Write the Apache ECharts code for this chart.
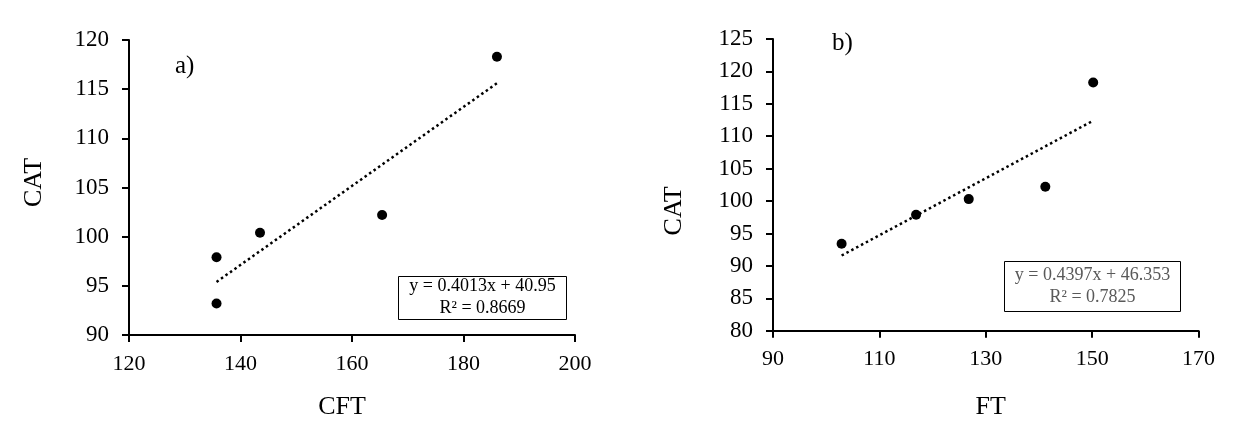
<!DOCTYPE html>
<html>
<head>
<meta charset="utf-8">
<script src="https://cdn.jsdelivr.net/npm/echarts@6/dist/echarts.min.js"></script>
<style>
html,body{margin:0;padding:0;background:#fff;}
#chart{width:1237px;height:429px;}
</style>
</head>
<body>
<div id="chart"></div>
<script>
// Panel a) CFT vs CAT
const cftValues = [135.7, 135.7, 143.5, 165.4, 186.0];
const catValuesA = [97.9, 93.2, 100.4, 102.2, 118.3];
const trendA = [[135.7, 95.4], [186.0, 115.6]];
const eqA = ['y = 0.4013x + 40.95', 'R² = 0.8669'];
const xTicksA = [120, 140, 160, 180, 200];
const yTicksA = [90, 95, 100, 105, 110, 115, 120];

// Panel b) FT vs CAT
const ftValues = [102.9, 116.9, 126.8, 141.2, 150.2];
const catValuesB = [93.4, 97.9, 100.3, 102.2, 118.3];
const trendB = [[102.9, 91.6], [150.2, 112.4]];
const eqB = ['y = 0.4397x + 46.353', 'R² = 0.7825'];
const xTicksB = [90, 110, 130, 150, 170];
const yTicksB = [80, 85, 90, 95, 100, 105, 110, 115, 120, 125];

const FONT = '"Liberation Serif", "Times New Roman", serif';
const chart = echarts.init(document.getElementById('chart'), null, {renderer: 'canvas'});

function axisCommon(isY) {
  return {
    axisLine: {show: true, onZero: false, lineStyle: {color: '#000', width: 2}},
    axisTick: {show: true, inside: false, length: 7, lineStyle: {color: '#000', width: 2}},
    splitLine: {show: false},
    axisLabel: {color: '#000', fontFamily: FONT, fontSize: isY ? 23 : 22, margin: isY ? 20 : 18},
    nameTextStyle: {color: '#000', fontFamily: FONT, fontSize: 26},
    nameLocation: 'middle'
  };
}

const option = {
  backgroundColor: '#fff',
  animation: false,
  grid: [
    {left: 129, right: 1237 - 575, top: 40, bottom: 429 - 335},
    {left: 773, right: 1237 - 1198.5, top: 39, bottom: 429 - 330.7}
  ],
  xAxis: [
    Object.assign(axisCommon(false), {gridIndex: 0, type: 'value', min: xTicksA[0], max: xTicksA[xTicksA.length - 1], interval: xTicksA[1] - xTicksA[0], name: 'CFT', nameGap: 59}),
    Object.assign(axisCommon(false), {gridIndex: 1, type: 'value', min: xTicksB[0], max: xTicksB[xTicksB.length - 1], interval: xTicksB[1] - xTicksB[0], name: 'FT', nameGap: 63})
  ],
  yAxis: [
    Object.assign(axisCommon(true), {gridIndex: 0, type: 'value', min: yTicksA[0], max: yTicksA[yTicksA.length - 1], interval: yTicksA[1] - yTicksA[0], name: 'CAT', nameGap: 82}),
    Object.assign(axisCommon(true), {gridIndex: 1, type: 'value', min: yTicksB[0], max: yTicksB[yTicksB.length - 1], interval: yTicksB[1] - yTicksB[0], name: 'CAT', nameGap: 86})
  ],
  series: [
    {type: 'scatter', xAxisIndex: 0, yAxisIndex: 0, symbol: 'circle', symbolSize: 10, itemStyle: {color: '#000', opacity: 1},
     data: cftValues.map((x, i) => [x, catValuesA[i]]), z: 3},
    {type: 'line', xAxisIndex: 0, yAxisIndex: 0, data: trendA, showSymbol: false, symbol: 'none',
     lineStyle: {color: '#000', width: 2.5, type: [2.5, 3]}, z: 2},
    {type: 'scatter', xAxisIndex: 1, yAxisIndex: 1, symbol: 'circle', symbolSize: 10, itemStyle: {color: '#000', opacity: 1},
     data: ftValues.map((x, i) => [x, catValuesB[i]]), z: 3},
    {type: 'line', xAxisIndex: 1, yAxisIndex: 1, data: trendB, showSymbol: false, symbol: 'none',
     lineStyle: {color: '#000', width: 2.5, type: [2.5, 3]}, z: 2}
  ],
  graphic: [
    {type: 'text', left: 175, top: 54, style: {text: 'a)', font: '25px ' + FONT, fill: '#000'}},
    {type: 'text', left: 832, top: 31, style: {text: 'b)', font: '25px ' + FONT, fill: '#000'}},
    {type: 'rect', shape: {x: 398.5, y: 276.5, width: 168, height: 43}, style: {fill: '#fff', stroke: '#000', lineWidth: 1}, z: 10},
    {type: 'text', x: 482.5, y: 286, style: {text: eqA[0], font: '18px ' + FONT, fill: '#000', align: 'center', verticalAlign: 'middle'}, z: 11},
    {type: 'text', x: 482.5, y: 308, style: {text: eqA[1], font: '18px ' + FONT, fill: '#000', align: 'center', verticalAlign: 'middle'}, z: 11},
    {type: 'rect', shape: {x: 1004.5, y: 261.5, width: 176, height: 50}, style: {fill: '#fff', stroke: '#000', lineWidth: 1}, z: 10},
    {type: 'text', x: 1092.5, y: 275, style: {text: eqB[0], font: '18px ' + FONT, fill: '#595959', align: 'center', verticalAlign: 'middle'}, z: 11},
    {type: 'text', x: 1092.5, y: 297, style: {text: eqB[1], font: '18px ' + FONT, fill: '#595959', align: 'center', verticalAlign: 'middle'}, z: 11}
  ]
};
option.xAxis[0].nameTextStyle.padding = [0, 20, 0, 0];
option.xAxis[1].nameTextStyle.padding = [0, 0, 0, 10];
option.yAxis[0].nameTextStyle.padding = [0, 0, 0, 10];
option.yAxis[1].nameTextStyle.padding = [0, 52, 0, 0];
chart.setOption(option);
</script>
</body>
</html>
